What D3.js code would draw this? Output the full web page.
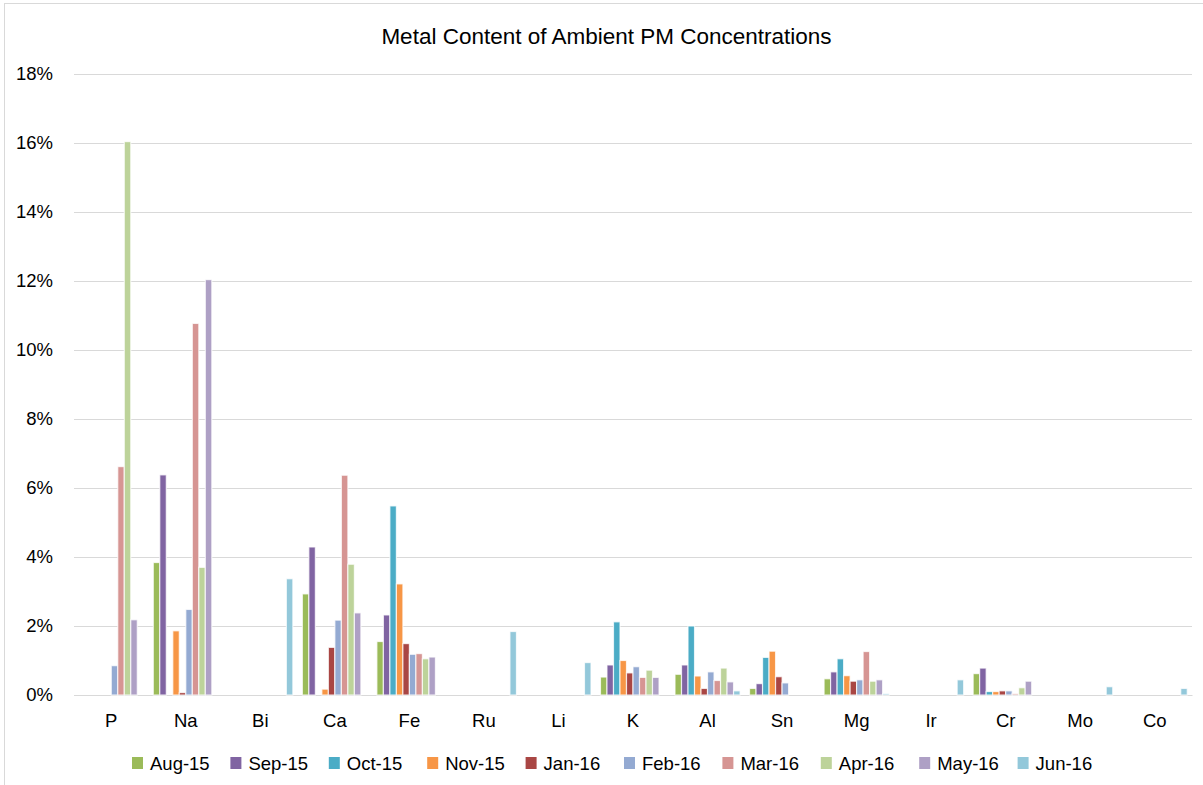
<!DOCTYPE html>
<html>
<head>
<meta charset="utf-8">
<script src="https://cdnjs.cloudflare.com/ajax/libs/d3/7.8.5/d3.min.js"></script>
<style>
  body { margin: 0; background: #fff; }
  svg text { font-family: "Liberation Sans", Arial, sans-serif; fill: #000; }
</style>
</head>
<body>
<div id="chart"></div>
<script>
// data (values in %)
var categories = ['P', 'Na', 'Bi', 'Ca', 'Fe', 'Ru', 'Li', 'K', 'Al', 'Sn', 'Mg', 'Ir', 'Cr', 'Mo', 'Co'];
var seriesNames = ['Aug-15', 'Sep-15', 'Oct-15', 'Nov-15', 'Jan-16', 'Feb-16', 'Mar-16', 'Apr-16', 'May-16', 'Jun-16'];
var aug15 = [0, 3.84, 0, 2.93, 1.55, 0, 0, 0.52, 0.60, 0.19, 0.47, 0, 0.62, 0, 0];
var sep15 = [0, 6.38, 0, 4.29, 2.32, 0, 0, 0.87, 0.87, 0.33, 0.67, 0, 0.78, 0, 0];
var oct15 = [0, 0, 0, 0, 5.48, 0, 0, 2.12, 2.00, 1.09, 1.05, 0, 0.10, 0, 0];
var nov15 = [0, 1.86, 0, 0.17, 3.22, 0, 0, 1.00, 0.55, 1.27, 0.56, 0, 0.10, 0, 0];
var jan16 = [0, 0.07, 0, 1.38, 1.49, 0, 0, 0.64, 0.19, 0.53, 0.40, 0, 0.12, 0, 0];
var feb16 = [0.85, 2.48, 0, 2.17, 1.18, 0, 0, 0.82, 0.67, 0.35, 0.44, 0, 0.12, 0, 0];
var mar16 = [6.62, 10.77, 0, 6.37, 1.20, 0, 0, 0.51, 0.42, 0, 1.26, 0, 0.04, 0, 0];
var apr16 = [16.04, 3.70, 0, 3.79, 1.05, 0, 0, 0.72, 0.78, 0, 0.40, 0, 0.21, 0, 0];
var may16 = [2.18, 12.04, 0, 2.38, 1.10, 0, 0, 0.51, 0.38, 0, 0.44, 0, 0.40, 0, 0];
var jun16 = [0, 0, 3.37, 0, 0, 1.84, 0.94, 0, 0.12, 0, 0.04, 0.44, 0, 0.24, 0.19];
var yTicks = [0, 2, 4, 6, 8, 10, 12, 14, 16, 18];

var seriesValues = [aug15, sep15, oct15, nov15, jan16, feb16, mar16, apr16, may16, jun16];
var colors = ['#9BBB59', '#8064A2', '#4BACC6', '#F79646', '#A94644',
              '#94AAD2', '#D69593', '#BDD39A', '#AEA0C5', '#93C8DA'];

var width = 1203, height = 785;
var margin = {top: 74, right: 11, bottom: 90, left: 74};

var svg = d3.select('#chart')
    .append('svg')
    .attr('width', width)
    .attr('height', height);

// outer chart border
svg.append('rect')
    .attr('x', 4.5).attr('y', 3.5)
    .attr('width', width + 10).attr('height', height + 10)
    .attr('fill', 'none')
    .attr('stroke', '#d9d9d9');

var x = d3.scaleBand()
    .domain(categories)
    .range([margin.left, width - margin.right]);

var xInner = d3.scaleBand()
    .domain(seriesNames)
    .range([0, x.bandwidth()])
    .paddingOuter(0.73);

var y = d3.scaleLinear()
    .domain([0, 18])
    .range([height - margin.bottom, margin.top]);

var color = d3.scaleOrdinal()
    .domain(seriesNames)
    .range(colors);

// title
svg.append('text')
    .attr('x', 606.5)
    .attr('y', 44)
    .attr('text-anchor', 'middle')
    .style('font-size', '22.5px')
    .text('Metal Content of Ambient PM Concentrations');

// gridlines + y labels
var yAxis = d3.axisLeft(y)
    .tickValues(yTicks)
    .tickSize(-(width - margin.left - margin.right))
    .tickPadding(21)
    .tickFormat(function(d) { return d + '%'; });

var gy = svg.append('g')
    .attr('transform', 'translate(' + margin.left + ',0)')
    .call(yAxis);
gy.select('.domain').remove();
gy.selectAll('.tick line').attr('stroke', '#d9d9d9');
gy.selectAll('.tick text')
    .style('font-size', '18.5px')
    .attr('fill', '#000');

// x axis labels
var xAxis = d3.axisBottom(x).tickSize(0).tickPadding(19);
var gx = svg.append('g')
    .attr('transform', 'translate(0,' + y(0) + ')')
    .call(xAxis);
gx.select('.domain').attr('stroke', '#d9d9d9');
gx.selectAll('.tick text')
    .style('font-size', '18.5px')
    .attr('fill', '#000');

// bars
var rows = [];
categories.forEach(function(c, i) {
    seriesNames.forEach(function(s, j) {
        rows.push({category: c, series: s, value: seriesValues[j][i]});
    });
});

svg.append('g')
    .selectAll('rect')
    .data(rows.filter(function(d) { return d.value > 0; }))
    .enter()
    .append('rect')
    .attr('x', function(d) { return x(d.category) + xInner(d.series); })
    .attr('y', function(d) { return y(d.value); })
    .attr('width', xInner.bandwidth())
    .attr('height', function(d) { return y(0) - y(d.value); })
    .attr('fill', function(d) { return color(d.series); })
    .attr('stroke', 'rgba(255,255,255,0.75)')
    .attr('stroke-width', 1.2);

// legend
var legendX = d3.scaleBand()
    .domain(seriesNames)
    .range([132, 132 + 98.4 * seriesNames.length]);

var legend = svg.append('g')
    .selectAll('g')
    .data(seriesNames)
    .enter()
    .append('g')
    .attr('transform', function(d) { return 'translate(' + legendX(d) + ',757)'; });

legend.append('rect')
    .attr('width', 11)
    .attr('height', 12)
    .attr('fill', function(d) { return color(d); });

legend.append('text')
    .attr('x', 18)
    .attr('y', 13)
    .style('font-size', '18.5px')
    .attr('textLength', function(d) { return null; })
    .text(function(d) { return d; });
</script>
</body>
</html>
